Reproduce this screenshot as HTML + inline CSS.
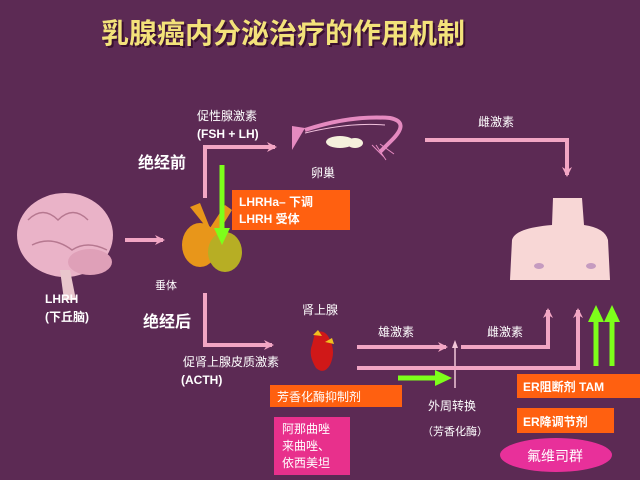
<!DOCTYPE html>
<html><head><meta charset="utf-8"><style>
html,body{margin:0;padding:0;background:#5c2a54;}
svg{display:block}
text{font-family:"Liberation Sans","Noto Sans CJK SC",sans-serif;fill:#fff;}
</style></head><body>
<svg width="640" height="480" viewBox="0 0 640 480" xmlns="http://www.w3.org/2000/svg">
<defs>
<marker id="pa" markerWidth="10" markerHeight="10" refX="8" refY="5" orient="auto" markerUnits="userSpaceOnUse"><path d="M0,0 L10,5 L0,10 L3,5 Z" fill="#f2a6c4"/></marker>
</defs>
<rect width="640" height="480" fill="#5c2a54"/>
<text x="103" y="45" font-size="28" font-weight="bold" style="fill:#3a1030">乳腺癌内分泌治疗的作用机制</text>
<text x="101" y="43" font-size="28" font-weight="bold" style="fill:#f3e27a">乳腺癌内分泌治疗的作用机制</text>

<!-- brain -->
<ellipse cx="65" cy="235" rx="48" ry="42" fill="#eab3c8"/>
<ellipse cx="90" cy="262" rx="22" ry="13" fill="#dfa0b8"/>
<path d="M60 270 L70 270 L76 300 L64 300 Z" fill="#e9c6cc"/>
<path d="M28 220 q15 -15 30 0 q15 -15 30 0 M32 245 q20 -10 40 5 q15 -10 35 0" stroke="#b67890" fill="none" stroke-width="1.5"/>
<line x1="125" y1="240" x2="163" y2="240" stroke="#f2a6c4" stroke-width="4" marker-end="url(#pa)"/>

<!-- pituitary -->
<path d="M190 207 L200 203 L210 228 L225 205 L232 210 L215 238 Z" fill="#e8961a"/>
<ellipse cx="200" cy="245" rx="18" ry="22" fill="#e8961a"/>
<ellipse cx="225" cy="252" rx="17" ry="20" fill="#b7ae24"/>

<!-- upper path -->
<polyline points="205,198 205,147 275,147" fill="none" stroke="#f2a6c4" stroke-width="4" marker-end="url(#pa)"/>
<text x="197" y="120" font-size="12">促性腺激素</text>
<text x="197" y="138" font-size="12" font-weight="bold">(FSH + LH)</text>
<text x="138" y="168" font-size="16" font-weight="bold">绝经前</text>
<line x1="222" y1="165" x2="222" y2="232" stroke="#7dff1a" stroke-width="5"/>
<path d="M214 228 L230 228 L222 245 Z" fill="#7dff1a"/>
<rect x="232" y="190" width="118" height="40" fill="#ff6010"/>
<text x="239" y="206" font-size="12" font-weight="bold">LHRHa– 下调</text>
<text x="239" y="223" font-size="12" font-weight="bold">LHRH 受体</text>
<text x="155" y="289" font-size="11">垂体</text>
<text x="45" y="303" font-size="12" font-weight="bold">LHRH</text>
<text x="45" y="321" font-size="12" font-weight="bold">(下丘脑)</text>

<!-- ovary -->
<path d="M292 126 L305 128 L292 150 Z" fill="#e58ac0"/>
<path d="M305 130 Q350 115 390 118 Q410 122 392 140 L380 152" stroke="#e58ac0" stroke-width="4" fill="none"/>
<path d="M305 133 Q350 122 385 125" stroke="#f0c0dc" stroke-width="1" fill="none"/>
<ellipse cx="340" cy="142" rx="14" ry="6" fill="#f5f0dc"/>
<ellipse cx="355" cy="143" rx="8" ry="5" fill="#f5f0dc"/>
<path d="M372 145 l12 12 M376 145 l10 15 M380 144 l14 10" stroke="#e58ac0" stroke-width="1"/>
<text x="311" y="177" font-size="12">卵巢</text>

<!-- estrogen to breast -->
<text x="478" y="126" font-size="12">雌激素</text>
<polyline points="425,140 567,140 567,175" fill="none" stroke="#f2a6c4" stroke-width="4" marker-end="url(#pa)"/>
<!-- torso -->
<path d="M553 198 L582 198 L584 225 Q605 228 608 240 L610 280 L510 280 L512 240 Q515 228 552 225 Z" fill="#f8d7d6"/>
<ellipse cx="539" cy="266" rx="5" ry="3" fill="#c59bc0"/>
<ellipse cx="591" cy="266" rx="5" ry="3" fill="#c59bc0"/>

<!-- lower path -->
<polyline points="205,293 205,345 272,345" fill="none" stroke="#f2a6c4" stroke-width="4" marker-end="url(#pa)"/>
<text x="143" y="327" font-size="16" font-weight="bold">绝经后</text>
<text x="183" y="366" font-size="12">促肾上腺皮质激素</text>
<text x="181" y="384" font-size="12" font-weight="bold">(ACTH)</text>
<text x="302" y="314" font-size="12">肾上腺</text>
<path d="M315 333 Q325 328 330 340 Q336 352 330 365 Q324 375 316 368 Q308 355 312 345 Z" fill="#d01818"/>
<path d="M313 335 l5 -5 l4 6 Z M325 342 l7 -4 l2 6 Z" fill="#f0c020"/>

<text x="378" y="336" font-size="12">雄激素</text>
<line x1="357" y1="347" x2="446" y2="347" stroke="#f2a6c4" stroke-width="4" marker-end="url(#pa)"/>
<line x1="455" y1="388" x2="455" y2="343" stroke="#f2c6d8" stroke-width="1.5"/>
<path d="M452 348 L455 340 L458 348 Z" fill="#f2c6d8"/>
<text x="487" y="336" font-size="12">雌激素</text>
<polyline points="461,347 548,347 548,310" fill="none" stroke="#f2a6c4" stroke-width="4" marker-end="url(#pa)"/>
<polyline points="357,368 578,368 578,310" fill="none" stroke="#f2a6c4" stroke-width="4" marker-end="url(#pa)"/>
<line x1="398" y1="378" x2="438" y2="378" stroke="#7dff1a" stroke-width="5"/>
<path d="M435 370 L452 378 L435 386 Z" fill="#7dff1a"/>
<line x1="596" y1="366" x2="596" y2="318" stroke="#7dff1a" stroke-width="5"/>
<path d="M588 322 L596 305 L604 322 Z" fill="#7dff1a"/>
<line x1="612" y1="366" x2="612" y2="318" stroke="#7dff1a" stroke-width="5"/>
<path d="M604 322 L612 305 L620 322 Z" fill="#7dff1a"/>

<rect x="270" y="385" width="132" height="22" fill="#ff6010"/>
<text x="277" y="401" font-size="12">芳香化酶抑制剂</text>
<rect x="274" y="417" width="76" height="58" fill="#e8308c"/>
<text x="282" y="433" font-size="12">阿那曲唑</text>
<text x="282" y="450" font-size="12">来曲唑、</text>
<text x="282" y="467" font-size="12">依西美坦</text>
<text x="428" y="410" font-size="12">外周转换</text>
<text x="422" y="435" font-size="11">（芳香化酶）</text>

<rect x="517" y="374" width="123" height="24" fill="#ff6010"/>
<text x="523" y="391" font-size="12" font-weight="bold">ER阻断剂 TAM</text>
<rect x="517" y="408" width="97" height="25" fill="#ff6010"/>
<text x="523" y="426" font-size="12" font-weight="bold">ER降调节剂</text>
<ellipse cx="556" cy="455" rx="56" ry="17" fill="#e8309a"/>
<text x="527" y="461" font-size="14">氟维司群</text>
</svg>
</body></html>
